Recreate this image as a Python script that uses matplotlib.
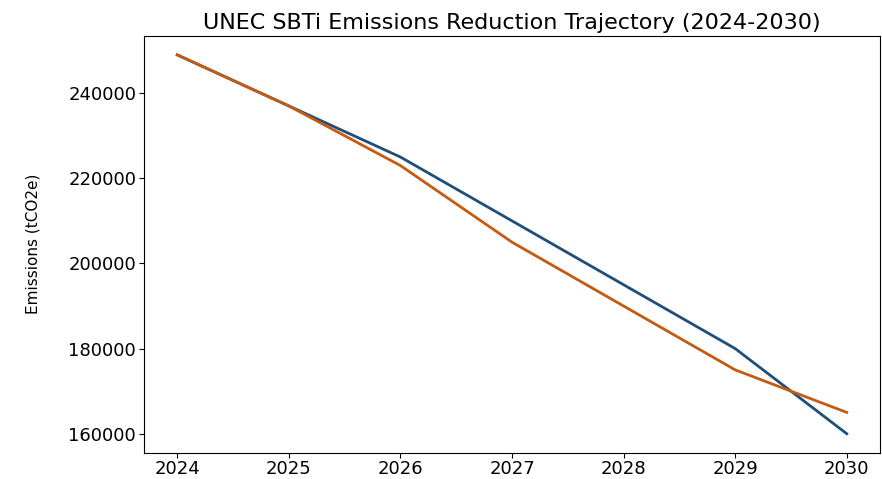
import matplotlib
matplotlib.use('Agg')
import matplotlib.pyplot as plt

years = [2024, 2025, 2026, 2027, 2028, 2029, 2030]
sbti_target = [249000, 237000, 225000, 210000, 195000, 180000, 160000]
projected = [249000, 237000, 223000, 205000, 190000, 175000, 165000]

fig, ax = plt.subplots(figsize=(8.82, 4.79), dpi=100)
fig.subplots_adjust(left=0.163, right=0.998, top=0.925, bottom=0.055)

ax.plot(years, sbti_target, color='#1f4e79', linewidth=2)
ax.plot(years, projected, color='#c55a11', linewidth=2)

ax.set_title('UNEC SBTi Emissions Reduction Trajectory (2024-2030)', fontsize=16, pad=5)
ax.set_ylabel('Emissions (tCO2e)', fontsize=11, labelpad=20)
ax.set_xticks(years)
ax.tick_params(labelsize=13, pad=2)

fig.savefig('out.png', dpi=100)
